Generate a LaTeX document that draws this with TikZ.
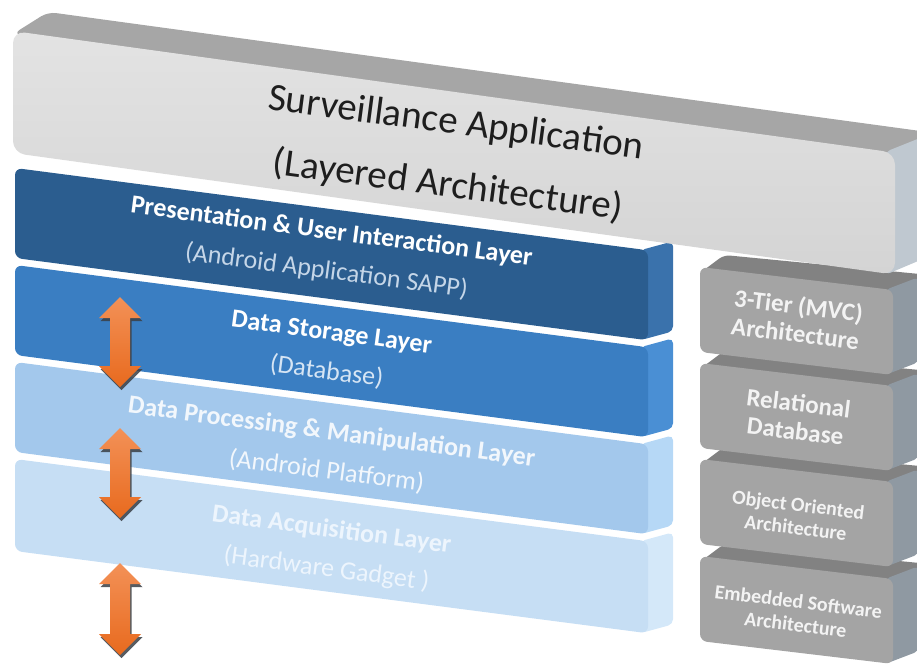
\documentclass[tikz,border=0pt]{standalone}
\usepackage{fontspec}
\setmainfont{Carlito}

\definecolor{slabfront}{HTML}{D4D4D4}
\definecolor{slabfronttop}{HTML}{E3E3E3}
\definecolor{slabtop}{HTML}{A6A6A6}
\definecolor{slabside}{HTML}{BFC8D0}
\definecolor{layerAfront}{HTML}{2B5D8F}
\definecolor{layerAside}{HTML}{3A72AC}
\definecolor{layerBfront}{HTML}{3A7EC2}
\definecolor{layerBside}{HTML}{4A8FD4}
\definecolor{layerCfront}{HTML}{A3C8EC}
\definecolor{layerCside}{HTML}{B6D8F6}
\definecolor{layerDfront}{HTML}{C6DEF4}
\definecolor{layerDside}{HTML}{D4E8F9}
\definecolor{boxfront}{HTML}{A4A4A4}
\definecolor{boxtop}{HTML}{828282}
\definecolor{boxside}{HTML}{8F99A2}
\definecolor{arrowlight}{HTML}{F39157}
\definecolor{arrowdark}{HTML}{E86A1E}
\definecolor{arrowshadow}{HTML}{3A3F45}
\definecolor{titleink}{HTML}{1E1E1E}
\definecolor{subA}{HTML}{C5D6E8}
\definecolor{subB}{HTML}{D6E5F4}
\definecolor{inkC}{HTML}{F2F7FC}
\definecolor{inkD}{HTML}{EDF5FD}
\definecolor{boxink}{HTML}{F3F3F3}

% one blue layer: front face plus right side face
% #1 left x, #2 right x, #3 top-left y, #4 height, #5 front colour, #6 side colour
\newcommand{\layerblock}[6]{%
  \pgfmathsetmacro{\ytr}{#3+0.13*(#2-#1)}%
  \pgfmathsetmacro{\ybr}{\ytr+#4}%
  \fill[#6, rounded corners=5pt] (#2-8,\ytr) -- (#2+25,\ytr-9) -- (#2+25,\ybr-9) -- (#2-8,\ybr) -- cycle;
  \fill[#5, rounded corners=7pt] (#1,#3) -- (#2,\ytr) -- (#2,\ybr) -- (#1,#3+#4) -- cycle;
}

% one grey side box: top face, side face and front face; #1 top-left y
\newcommand{\greyblock}[1]{%
  \pgfmathsetmacro{\ytr}{#1+23}%
  \pgfmathsetmacro{\ybr}{\ytr+85}%
  \fill[boxtop, rounded corners=6pt] (700,#1+6) -- (724,#1-12) -- (930,\ytr-15) -- (893,\ytr+4) -- cycle;
  \fill[boxside, rounded corners=5pt] (885,\ytr) -- (919,\ytr-13) -- (919,\ybr-13) -- (885,\ybr) -- cycle;
  \fill[boxfront, rounded corners=7pt] (700,#1) -- (893,\ytr) -- (893,\ybr) -- (700,#1+85) -- cycle;
}

% double headed vertical arrow with a drop shadow; #1 x, #2 top tip y, #3 bottom tip y
\newcommand{\udarrow}[3]{%
  \def\arrowpath{(#1,#2) -- (#1+21,#2+21) -- (#1+10,#2+21) -- (#1+10,#3-21) -- (#1+21,#3-21) -- (#1,#3) -- (#1-21,#3-21) -- (#1-10,#3-21) -- (#1-10,#2+21) -- (#1-21,#2+21) -- cycle}%
  \begin{scope}[shift={(1.5,3)}]
    \fill[arrowshadow, opacity=.85] \arrowpath;
  \end{scope}
  \shade[top color=arrowlight, bottom color=arrowdark] \arrowpath;
}

\begin{document}
\begin{tikzpicture}[x=1pt,y=-1pt,
  slabtext/.style={font=\fontsize{39}{63}\selectfont, text=titleink, rotate=-7.5, inner sep=0pt, align=center},
  layertext/.style={font=\fontsize{26}{39.5}\selectfont, rotate=-7.5, inner sep=0pt, align=center},
  boxbig/.style={font=\bfseries\fontsize{25}{28}\selectfont, text=boxink, rotate=-7, inner sep=0pt, align=center},
  boxsmall/.style={font=\bfseries\fontsize{20}{23}\selectfont, text=boxink, rotate=-7, inner sep=0pt, align=center}]

\useasboundingbox (0,0) rectangle (917,666);
\clip (0,0) rectangle (917,666);

% grey side boxes, bottom one first
\greyblock{556}
\greyblock{459}
\greyblock{363}
\greyblock{267}

% blue layer stack, bottom one first
\layerblock{15}{648}{459}{92}{layerDfront}{layerDside}
\layerblock{15}{648}{362}{90}{layerCfront}{layerCside}
\layerblock{15}{648}{265}{90}{layerBfront}{layerBside}
\layerblock{15}{648}{168}{90}{layerAfront}{layerAside}

% top slab
\fill[slabtop, rounded corners=8pt] (13,34) -- (48,12) -- (935,133) -- (895,156) -- cycle;
\fill[slabside, rounded corners=6pt] (885,152) -- (930,134) -- (930,256) -- (885,275) -- cycle;
\shade[top color=slabfronttop, bottom color=slabfront, rounded corners=12pt]
  (13,31) -- (895,152.7) -- (895,274.7) -- (13,153) -- cycle;

% slab caption
\node[slabtext] (app) at (452,155) {Surveillance Application\\(Layered Architecture)};

% layer captions
\node[layertext, text=white] (presentation) at (329,252)
  {\bfseries Presentation \& User Interaction Layer\\\color{subA}(Android Application SAPP)};
\node[layertext, text=white] (storage) at (329,353)
  {\bfseries Data Storage Layer\\\color{subB}(Database)};
\node[layertext, text=inkC] (processing) at (329,452)
  {\bfseries Data Processing \& Manipulation Layer\\(Android Platform)};
\node[layertext, text=inkD] (acquisition) at (329,550)
  {\bfseries Data Acquisition Layer\\(Hardware Gadget )};

% grey box captions
\node[boxbig] (tier) at (797,319) {3-Tier (MVC)\\Architecture};
\node[boxbig] (rel) at (797,417) {Relational\\Database};
\node[boxsmall] (oo) at (797,516) {Object Oriented\\Architecture};
\node[boxsmall] (emb) at (797,613) {Embedded Software\\Architecture};

% data flow arrows between layers
\udarrow{120}{297}{387}
\udarrow{120}{428}{518}
\udarrow{120}{563}{655}

\end{tikzpicture}
\end{document}
